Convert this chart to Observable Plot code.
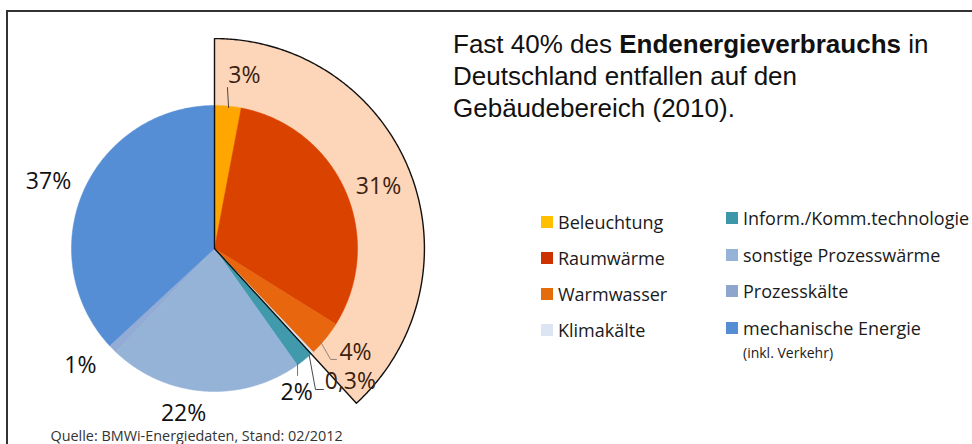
<!DOCTYPE html>
<html>
<head>
<meta charset="utf-8">
<script src="https://cdn.jsdelivr.net/npm/d3@7"></script>
<script src="https://cdn.jsdelivr.net/npm/@observablehq/plot@0.6"></script>
<style>
  html, body { margin: 0; padding: 0; background: #fff; }
  #wrap { position: relative; width: 972px; height: 444px; overflow: hidden; }
  #frame { position: absolute; left: 6px; top: 10px; width: 1000px; height: 500px; border: 2px solid #333; box-sizing: border-box; }
  #plot { position: absolute; left: 0; top: 0; }
  #title { position: absolute; left: 453px; top: 28px; font-family: "Liberation Sans", Arial, sans-serif; font-size: 26px; line-height: 32px; color: #111; }
  .lg { position: absolute; font-family: "Open Sans", sans-serif; font-size: 18px; color: #1a1a1a; display: flex; align-items: center; height: 24px; white-space: nowrap; }
  .sw { width: 12px; height: 12px; margin-right: 5px; flex: none; }
  .sub { position: absolute; font-family: "Open Sans", sans-serif; font-size: 14px; color: #1a1a1a; white-space: nowrap; }
</style>
</head>
<body>
<div id="wrap">
  <div id="frame"></div>
  <div id="plot"></div>
  <div id="title">Fast 40% des <b>Endenergieverbrauchs</b> in<br>Deutschland entfallen auf den<br>Gebäudebereich (2010).</div>
  <div id="legend"></div>
</div>
<script>
// ---- data ----
const categories = ["Beleuchtung", "Raumwärme", "Warmwasser", "Klimakälte",
  "Inform./Komm.technologie", "sonstige Prozesswärme", "Prozesskälte", "mechanische Energie"];
const shares = [3, 31, 4, 0.3, 2, 22, 1, 37];
const shareLabels = ["3%", "31%", "4%", "0,3%", "2%", "22%", "1%", "37%"];
const inBuildings = [true, true, true, true, false, false, false, false];
const pieColors = ["#FFA600", "#DA4200", "#E8660E", "#DCE6F2", "#4199AC", "#95B3D7", "#92ACD5", "#558ED5"];
const legendColors = ["#FFC000", "#CC3300", "#E46C0A", "#DCE6F2", "#3E97A8", "#95B3D7", "#8EA5CE", "#558ED5"];
const legendNote = "(inkl. Verkehr)";
const source = "Quelle: BMWi-Energiedaten, Stand: 02/2012";

// ---- layout (pie units: radius 1) ----
const W = 972, H = 444, R = 143, CX = 214, CY = 248;
const outerR = 1.468;
// label placement: [angle in degrees clockwise from top, radius]
const labelPlace = [[9.8, 1.228], [69.3, 1.226], [126.4, 1.225], [134.4, 1.33], [150.3, 1.159], [190.6, 1.174], [228.9, 1.244], [292, 1.252]];
const labelColors = ["#3b2210", "#3b2210", "#3b2210", "#3b2210", "#111", "#111", "#111", "#111"];
// leader lines: list of [angle, radius] points per label index
const leaders = [
  {i: 0, pts: [[5.7, 0.991], [4.6, 1.129]], c: "#333"},
  {i: 2, pts: [[131.3, 0.986], [133.7, 1.123], [132.3, 1.153]], c: "#8a7a70"},
  {i: 3, pts: [[138.5, 1.0], [144.4, 1.213], [142.3, 1.246]], c: "#333"},
  {i: 4, pts: [[144.2, 0.992], [146.8, 1.061]], c: "#666"}
];

const rad = a => a * Math.PI / 180;
const polar = (a, r) => ({x: r * Math.sin(rad(a)), y: r * Math.cos(rad(a))});

const total = d3.sum(shares);
let cum = 0;
const slices = shares.map((v, i) => {
  const a0 = cum / total * 360; cum += v; const a1 = cum / total * 360;
  return {i, a0, a1};
});
function sector(a0, a1, r, key, color) {
  const pts = [{...polar(0, 0), key, color}];
  const n = Math.max(2, Math.ceil((a1 - a0) / 0.5));
  for (let k = 0; k <= n; k++) pts.push({...polar(a0 + (a1 - a0) * k / n, r), key, color});
  return pts;
}
const piePts = slices.flatMap(s => sector(s.a0, s.a1, 1, s.i, pieColors[s.i]));
const bAngle = d3.sum(shares.filter((v, i) => inBuildings[i])) / total * 360;
const wedgePts = sector(0, bAngle, outerR, "w", "#FDD5B8");

const labelData = shareLabels.map((t, i) => ({text: t, ...polar(labelPlace[i][0], labelPlace[i][1]), color: labelColors[i]}));
const leaderPts = leaders.flatMap(l => l.pts.map(p => ({...polar(p[0], p[1]), key: l.i, c: l.c})));

const chart = Plot.plot({
  width: W, height: H,
  margin: 0,
  x: {domain: [-CX / R, (W - CX) / R], axis: null},
  y: {domain: [-(H - CY) / R, CY / R], axis: null},
  marks: [
    Plot.line(wedgePts, {x: "x", y: "y", z: "key", fill: "color", stroke: "none", curve: "linear-closed"}),
    Plot.line(piePts, {x: "x", y: "y", z: "key", fill: "color", stroke: "color", strokeWidth: 0.5, curve: "linear-closed"}),
    Plot.line(wedgePts, {x: "x", y: "y", z: "key", fill: "none", stroke: "#111", strokeWidth: 1.4, curve: "linear-closed"}),
    Plot.line(leaderPts, {x: "x", y: "y", z: "key", stroke: "c", strokeWidth: 0.9}),
    Plot.text(labelData, {x: "x", y: "y", text: "text", fill: "color", fontSize: 23, fontFamily: "Open Sans"}),
    Plot.text([source], {frameAnchor: "bottom-left", dx: 50, dy: -4, text: d => d, fontSize: 14.4, fill: "#333", fontFamily: "Open Sans", lineAnchor: "bottom"})
  ]
});
document.getElementById("plot").appendChild(chart);

// ---- legend ----
const lg = document.getElementById("legend");
const colX = [[541, [222, 258, 294, 330]], [726, [218, 255, 291, 328]]];
categories.forEach((c, i) => {
  const col = i < 4 ? 0 : 1, row = i % 4;
  const el = document.createElement("div");
  el.className = "lg";
  el.style.left = colX[col][0] + "px";
  el.style.top = (colX[col][1][row] - 12) + "px";
  const sw = document.createElement("span");
  sw.className = "sw"; sw.style.background = legendColors[i];
  el.appendChild(sw);
  el.appendChild(document.createTextNode(c));
  lg.appendChild(el);
});
const note = document.createElement("div");
note.className = "sub"; note.style.left = "743px"; note.style.top = "343px";
note.textContent = legendNote;
lg.appendChild(note);
</script>
</body>
</html>
